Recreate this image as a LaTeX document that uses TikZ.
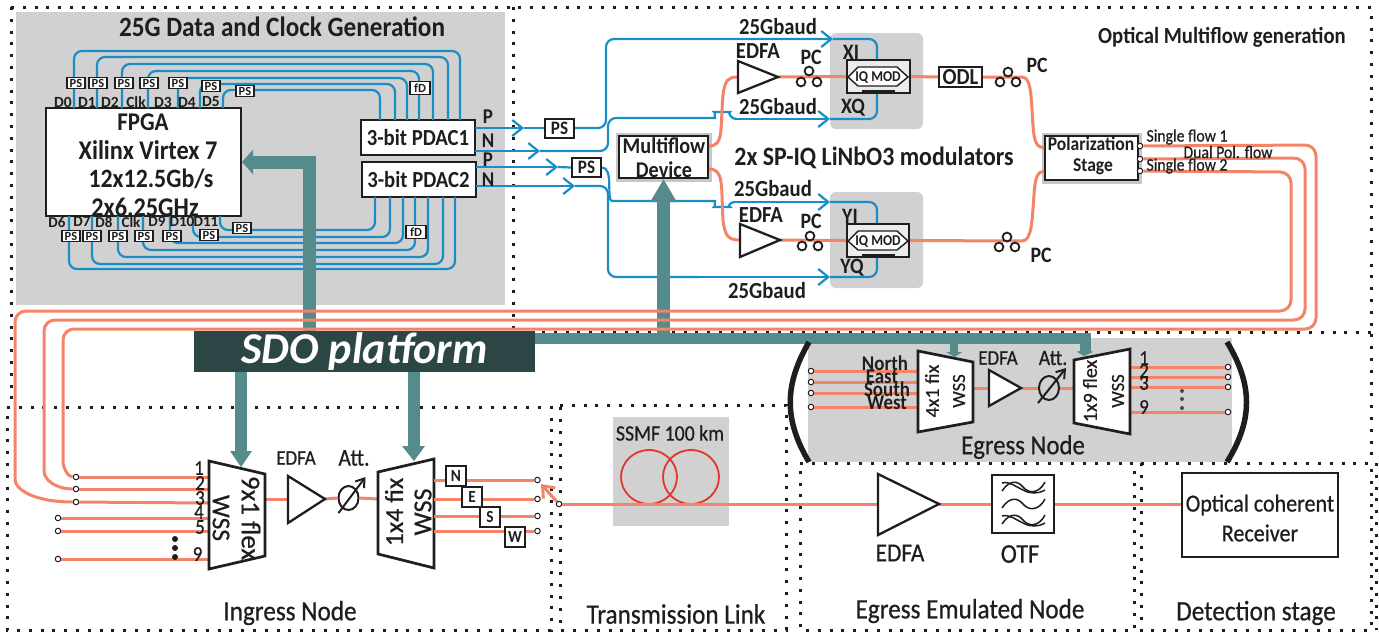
\documentclass[tikz,border=0pt]{standalone}
\usepackage{fontspec}
\setmainfont{Carlito}[FakeStretch=0.9,UprightFeatures={FakeBold=0.6}]
\newfontfamily\plainf{Carlito}[UprightFeatures={FakeBold=0.6}]
\usetikzlibrary{arrows.meta,shapes.geometric,calc}
\definecolor{bluec}{HTML}{1B8DC6}
\definecolor{orngc}{HTML}{F48468}
\definecolor{tealc}{HTML}{568B8B}
\definecolor{sdoc}{HTML}{2C4646}
\definecolor{grayc}{HTML}{D1D1D1}
\definecolor{inkc}{HTML}{1E1E1E}
\definecolor{redc}{HTML}{E2352B}
\newcommand{\fs}[1]{\fontsize{#1pt}{#1pt}\selectfont}
\tikzset{
  dotbox/.style={draw=inkc,line width=3pt,dash pattern=on 3pt off 8.8pt},
  blw/.style={draw=bluec,line width=2.2pt,rounded corners=8pt},
  blarrow/.style={blw,-{Straight Barb[length=10pt,width=16pt]}},
  org/.style={draw=orngc,line width=3pt},
  tw/.style={draw=tealc,line width=#1},
  pbox/.style={draw=inkc,line width=1.9pt,fill=white,inner sep=0pt,font=\plainf\fs{12.5}\bfseries,text=inkc},
  psb/.style={pbox,minimum width=18pt,minimum height=11pt},
  hbox/.style={draw=inkc,line width=2pt,fill=white,inner sep=0pt,text=inkc,align=center},
  shad/.style={preaction={draw=black!22,line width=7pt}},
  lab/.style={inner sep=0pt,text=inkc,font=\fs{#1}},
  plab/.style={inner sep=0pt,text=inkc,font=\plainf\fs{#1}},
  blab/.style={inner sep=0pt,text=inkc,font=\fs{#1}\bfseries},
  dlab/.style={inner sep=0pt,text=inkc,font=\plainf\fs{#1}\bfseries},
  port/.style={circle,draw=inkc,line width=1pt,fill=white,inner sep=0pt,minimum size=5.5pt},
  coil/.style={draw=inkc,line width=1.8pt,fill=white},
  tri/.style={draw=inkc,line width=2.3pt,fill=white,line join=miter},
  wss/.style={draw=inkc,line width=2.7pt,fill=white},
  att/.style={ellipse,draw=inkc,line width=2pt,inner sep=0pt,minimum width=20pt,minimum height=24pt},
  attar/.style={draw=inkc,line width=2pt,-{Straight Barb[length=8pt,width=11pt]}},
  dotk/.style={fill=inkc,draw=none},
}
\begin{document}
\begin{tikzpicture}[x=1pt,y=-1pt]
\useasboundingbox (0,0) rectangle (1379,633);
\fill[white] (0,0) rectangle (1379,633);
% grey fields
\fill[grayc] (16,12) rectangle (505,305);
\fill[grayc,rounded corners=6pt] (830,33) rectangle (923,129);
\fill[grayc,rounded corners=6pt] (830,192) rectangle (923,288);
\fill[grayc] (808,338) rectangle (1232,462);
\fill[grayc] (613,417) rectangle (729,526);
% dotted frames
\draw[dotbox] (11,7) -- (1371,7) -- (1371,463);
\draw[dotbox] (1371,332) -- (513,332);
\draw[dotbox] (513,7) -- (513,332);
\draw[dotbox] (11,7) -- (11,400);
\draw[dotbox] (7,407) -- (551,407) -- (551,630) -- (7,630) -- cycle;
\draw[dotbox] (560,405) -- (786,405) -- (786,630) -- (560,630) -- cycle;
\draw[dotbox] (800,463) -- (1134,463) -- (1134,630) -- (800,630) -- cycle;
\draw[dotbox] (1141,463) -- (1371,463) -- (1371,630) -- (1141,630) -- cycle;
\draw[dotbox] (1376,463) -- (1376,630);
% boxes that wires attach to
\node[hbox,minimum width=195pt,minimum height=108pt] (fpga) at (143.5,162) {};
\node[hbox,minimum width=114pt,minimum height=35pt,font=\fs{23}\bfseries] (pdaca) at (418,137.5) {3-bit PDAC1};
\node[hbox,minimum width=114pt,minimum height=35pt,font=\fs{23}\bfseries] (pdacb) at (418.5,179.5) {3-bit PDAC2};
% blue wires, FPGA to PDAC
\foreach \i/\xa/\yy/\xb in {0/74/51/460,1/97/57/448,2/122/64/433,3/148/71/419,4/178/78/407,5/200/84/395,6/223/90/380}{
  \coordinate (fa\i) at (\xa,108);
  \coordinate (ma\i) at ({(\xa+\xb)/2},\yy);
  \coordinate (pa\i) at (\xb,120);
  \draw[blw] (fa\i) |- (ma\i) -| (pa\i);
}
\foreach \i/\xa/\yy/\xb in {0/69/269/455,1/92/264/443,2/118/257/428,3/143/250/415,4/170/243/403,5/193/237/390,6/220/230/375}{
  \coordinate (fb\i) at (\xa,216);
  \coordinate (mb\i) at ({(\xa+\xb)/2},\yy);
  \coordinate (pb\i) at (\xb,197);
  \draw[blw] (fb\i) |- (mb\i) -| (pb\i);
}
% modulators
\node[hbox,fill=black!8,minimum width=63pt,minimum height=33pt] (iqa) at (878.5,76.5) {};
\node[hbox,fill=black!8,minimum width=62pt,minimum height=33pt] (iqb) at (878,240.5) {};
\node[hbox,shad,minimum width=89pt,minimum height=42pt] (mf) at (663.5,157) {};
\node[hbox,shad,minimum width=93pt,minimum height=44pt] (pol) at (1091.5,158) {};
\node[hbox,minimum width=29pt,minimum height=19pt,font=\fs{19}\bfseries] (psa) at (559.5,128) {PS};
\node[hbox,minimum width=29pt,minimum height=19pt,font=\fs{19}\bfseries] (psb) at (586.5,167.5) {PS};
% blue wires, PDAC to modulators
\coordinate (pa) at (475,128);
\coordinate (na) at (475,151);
\coordinate (pb) at (476,167);
\coordinate (nb) at (476,186);
\draw[blarrow] (pa) -- (524,128);
\draw[blw] (524,128) -- (psa.west);
\draw[blarrow] (psa.east) -- (606,128) -- (606,39) -- (833,39);
\draw[blw] (833,39) -- (877,39) -- (iqa.north -| 877,60);
\draw[blarrow] (na) -- (540,151);
\draw[blw] (540,151) -- (608,151) -- (608,118) -- (707,118) .. controls (714,118) and (716,112) .. (722,112) .. controls (728,112) and (730,119) .. (737,119);
\draw[blarrow] (737,119) -- (830,119);
\draw[blw] (830,119) -- (877,119) -- (iqa.south -| 877,93);
\draw[blarrow] (pb) -- (558,167);
\draw[blw] (558,167) -- (psb.west);
\draw[blw] (psb.east) .. controls (614,167) and (606,201) .. (620,201) -- (707,201) .. controls (714,201) and (716,207) .. (722,207) .. controls (728,207) and (729,202) .. (735,202);
\draw[blarrow] (735,202) -- (830,202);
\draw[blw] (830,202) -- (877,202) -- (iqb.north -| 877,224);
\draw[blarrow] (nb) -- (575,186);
\draw[blw] (575,186) -- (608,186) -- (608,277) -- (700,277);
\draw[blarrow] (700,277) -- (830,277);
\draw[blw] (830,277) -- (877,277) -- (iqb.south -| 877,257);
% teal control paths
\coordinate (ta) at (309.5,335);
\draw[tw=13pt,-{Triangle[length=11pt,width=24pt]}] (ta) |- (fpga.east);
\coordinate (tb) at (663.5,335);
\draw[tw=13pt,-{Triangle[length=23pt,width=25pt]}] (tb) -- (mf.south);
\coordinate (tba) at (535,338.5);
\coordinate (tbb) at (954,338.5);
\coordinate (tbc) at (1085,355);
\coordinate (tbd) at (954,356);
\draw[tw=11pt,-{Triangle[length=4pt,width=16pt]}] (tba) -| (tbc);
\draw[tw=8pt,-{Triangle[length=4pt,width=16pt]}] (tbb) -- (tbd);
% ports
\node[port] (i1) at (76,477) {};
\node[port] (i2) at (76,489) {};
\node[port] (i3) at (76,502) {};
\node[port] (i4) at (58,518) {};
\node[port] (i5) at (58,531) {};
\node[port] (i9) at (58,559) {};
\node[port] (sfa) at (1140,146) {};
\node[port] (sfd) at (1140,159) {};
\node[port] (sfb) at (1140,171) {};
% orange: flows back to the ingress node
\draw[org,rounded corners=11pt] (sfb) -- (1291,172) -- (1291,311) -- (15,311) -- (15,468) [sharp corners] .. controls (15,490) and (35,502) .. (i3.west);
\draw[org,rounded corners=11pt] (sfd) -- (1305,158) -- (1305,320) -- (44,320) -- (44,460) [sharp corners] .. controls (44,480) and (56,489) .. (i2.west);
\draw[org,rounded corners=11pt] (sfa) -- (1316,145) -- (1316,329) -- (63,329) -- (63,450) [sharp corners] .. controls (63,468) and (68,477) .. (i1.west);
% orange: multiflow section
\coordinate (ea1) at (738,77);
\coordinate (ea2) at (778,77);
\coordinate (eb1) at (740,240);
\coordinate (eb2) at (780,240);
\node[hbox,minimum width=43pt,minimum height=20pt,font=\fs{23}\bfseries] (odl) at (960.5,77) {ODL};
\draw[org] (mf.east |- 0,146) .. controls (724,146) and (720,130) .. (723,95) .. controls (725,80) and (728,77) .. (ea1);
\draw[org] (mf.east |- 0,169) .. controls (724,169) and (721,185) .. (723,220) .. controls (725,236) and (728,240) .. (eb1);
\draw[org] (ea2) -- (iqa.west);
\draw[org] (eb2) -- (iqb.west);
\draw[org] (iqa.east) -- (odl.west);
\draw[org] (odl.east) -- (1022,77) .. controls (1032,77) and (1031,100) .. (1033,125) .. controls (1034,143) and (1037,147) .. (pol.west |- 0,148);
\draw[org] (iqb.east) -- (1022,241) .. controls (1032,241) and (1032,220) .. (1034,195) .. controls (1035,176) and (1038,172) .. (pol.west |- 0,171);
% amplifiers and polarisation controllers
\draw[tri] (738,61) -- (738,93) -- (778,77) -- cycle;
\draw[tri] (740,224) -- (740,257) -- (780,240) -- cycle;
\foreach \x/\y in {809/71,801/82,817/82,810/236,802/246,818/246,1008/72,1000/82,1016/82,1007/237,999/247,1015/247}
  \draw[coil] (\x,\y) circle (4.4pt);
% IQ details
\foreach \c/\y in {iqa/77,iqb/241}{
  \draw[draw=inkc,line width=1.4pt,fill=white] (848,\y) -- (858,{\y-10}) -- (897,{\y-10}) -- (908,\y) -- (897,{\y+9}) -- (858,{\y+9}) -- cycle;
  \draw[draw=inkc,line width=.8pt] (862,{\y+13}) -- (895,{\y+13}) (862,{\y+14.6}) -- (895,{\y+14.6});
}
\node[blab=15] (iqta) at (878,77.5) {IQ MOD};
\node[blab=15] (iqtb) at (878,241.5) {IQ MOD};
% SDO
\node[draw=none,fill=sdoc,minimum width=341pt,minimum height=41pt,inner sep=0pt,text=white,font=\plainf\fs{44}\bfseries\itshape] (sdo) at (364.5,351.5) {SDO platform};
% ingress node
\draw[org] (i1) -- (209,477);
\draw[org] (i2) -- (209,489);
\draw[org] (i3) -- (209,503);
\draw[org] (i4) -- (209,518);
\draw[org] (i5) -- (209,531);
\draw[org] (i9) -- (209,559);
\coordinate (twa) at (241,372);
\coordinate (twb) at (414,372);
\draw[tw=12pt] (twa) -- (241,452);
\draw[tw=12pt] (twb) -- (414,447);
\coordinate (wio) at (265,499);
\coordinate (eci) at (288,499);
\coordinate (eco) at (325,499);
\node[att] (atti) at (348.5,498) {};
\coordinate (wo0) at (378,499);
\draw[org] (wio) -- (eci);
\draw[org] (eco) -- (atti.west);
\draw[org] (atti.east) -- (wo0);
\draw[attar] (338.5,513) -- (365.5,477);
\draw[wss] (209,461) -- (265,474) -- (265,556) -- (209,569) -- cycle;
\draw[tri] (288,476) -- (288,523) -- (325,499) -- cycle;
\draw[wss] (378,472) -- (434,459) -- (434,568) -- (378,554) -- cycle;
\fill[tealc] (230,451) -- (252,451) -- (241,467) -- cycle;
\fill[tealc] (402,446) -- (425,446) -- (414,461) -- cycle;
\node[plab=27,rotate=-90] (w9a) at (251,518) {9x1 flex};
\node[plab=25.5,rotate=-90] (w9b) at (221,518) {WSS};
\node[plab=26,rotate=90] (w4a) at (394,512) {1x4 fix};
\node[plab=26,rotate=90] (w4b) at (423,512) {WSS};
\foreach \t/\x/\y in {1/199/468,2/200/483,3/200/498,4/199/512,5/200/527,9/197.5/554}
  \node[lab=21] (in\t) at (\x,\y) {\t};
\foreach \y in {539,548,557} \fill[dotk] (175,\y) circle (3pt);
\node[lab=21] (ediq) at (296,458) {EDFA};
\node[lab=24] (atiq) at (354,458) {Att.};
\node[port] (o1) at (537.5,480) {};
\node[port] (o2) at (537.5,499) {};
\node[port] (o3) at (537.5,516) {};
\node[port] (o4) at (537.5,531) {};
\draw[org] (434,480) -- (o1);
\draw[org] (434,499) -- (o2);
\draw[org] (434,516) -- (o3);
\draw[org] (434,531) -- (o4);
\foreach \t/\n/\x/\y in {N/dn/456/476,E/de/472/497,S/ds/490/517,W/dw/515/537}
  \node[hbox,line width=1.7pt,minimum size=20pt,font=\fs{17}\bfseries] (\n) at (\x,\y) {\t};
\node[lab=28] (lingress) at (290,613) {Ingress Node};
% transmission link and following stages
\node[port] (fib) at (559,504) {};
\draw[draw=redc,line width=1.8pt] (649,477) ellipse (28pt and 27pt);
\draw[draw=redc,line width=1.8pt] (691,477) ellipse (28pt and 27pt);
\draw[draw=orngc,line width=3pt,-{Straight Barb[length=10pt,width=16pt]}] (fib) -- (541,484);
\coordinate (eea) at (878,504);
\coordinate (eeb) at (939,504);
\node[hbox,minimum width=62pt,minimum height=58pt] (otf) at (1023,504) {};
\node[hbox,minimum width=156pt,minimum height=84pt] (rx) at (1260,515) {};
\draw[org] (fib) -- (eea);
\draw[org] (eeb) -- (otf.west);
\draw[org] (otf.east) -- (rx.west |- 0,504);
\draw[tri] (878,474) -- (878,535) -- (939,504) -- cycle;
\foreach \y in {487,504,520}{
  \draw[draw=inkc,line width=1.5pt] (1002,{\y+4}) .. controls (1010,{\y-8}) and (1018,{\y-6}) .. (1023,\y) .. controls (1028,{\y+6}) and (1038,{\y+8}) .. (1045,{\y-5});
}
\foreach \y in {487,520}{
  \draw[draw=inkc,line width=1.5pt] (1002,{\y-4}) .. controls (1010,{\y-6}) and (1016,{\y}) .. (1023,{\y+3}) .. controls (1030,{\y+7}) and (1038,{\y+7}) .. (1045,{\y+3});
}
\node[lab=22] (ssmf) at (670,433) {SSMF 100 km};
\node[lab=26] (ledfa) at (900,553) {EDFA};
\node[lab=27] (lotf) at (1020,554) {OTF};
\node[lab=24.5] (rxa) at (1260,505) {Optical coherent};
\node[lab=24.5] (rxb) at (1260,533) {Receiver};
\node[lab=28] (ltl) at (676,614) {Transmission Link};
\node[lab=28] (lee) at (970,611) {Egress Emulated Node};
\node[lab=28] (lds) at (1256,613) {Detection stage};
% egress node
\draw[line width=5.5pt,draw=inkc] (809,342) .. controls (784,385) and (784,420) .. (809,462);
\draw[line width=5.5pt,draw=inkc] (1227,342) .. controls (1253,385) and (1253,420) .. (1227,462);
\foreach \n/\y in {ea/371,eb/382,ec/393,ed/407}{
  \node[port] (p\n) at (811,\y) {};
  \draw[org] (p\n) -- (918,\y);
}
\foreach \n/\y in {ef/367,eg/377,eh/387,ei/412}{
  \node[port] (p\n) at (1228,\y) {};
  \draw[org] (1130,\y) -- (p\n);
}
\node[att] (atte) at (1049,388) {};
\draw[org] (973,388) -- (989,388);
\draw[org] (1021,388) -- (atte.west);
\draw[org] (atte.east) -- (1074,388);
\draw[attar] (1038,403) -- (1066,368);
\draw[wss] (918,351) -- (973,362) -- (973,422) -- (918,432) -- cycle;
\draw[tri] (989,370) -- (989,406) -- (1021,388) -- cycle;
\draw[wss] (1074,360) -- (1130,349) -- (1130,434) -- (1074,423) -- cycle;
\fill[tealc] (947,352) -- (962,352) -- (954.5,357) -- cycle;
\fill[tealc] (1077,352) -- (1093,352) -- (1084,356) -- cycle;
\node[plab=20,rotate=90] (w41a) at (932,391) {4x1 fix};
\node[plab=18.5,rotate=90] (w41b) at (959,391) {WSS};
\node[plab=20,rotate=90] (w19a) at (1090,391) {1x9 flex};
\node[plab=18.5,rotate=90] (w19b) at (1118,391) {WSS};
\node[lab=21] (ednd) at (998,358) {EDFA};
\node[lab=22] (atnd) at (1053,358) {Att.};
\foreach \t/\n/\x/\y in {North/tn/885/363,East/te/882/377,South/ts/887/389,West/tw/887/403}
  \node[blab=21] (\n) at (\x,\y) {\t};
\foreach \t/\n/\y in {1/ta/358,2/tb/371,3/tc/383,9/td/407}
  \node[lab=21] (q\n) at (1144,\y) {\t};
\foreach \y in {391,399,408} \fill[inkc!80] (1182,\y) circle (2pt);
\node[lab=27.5] (legr) at (1023,447) {Egress Node};
% data generator labels and elements
\foreach \t/\n/\x in {D0/a/63,D1/b/87,D2/c/110,Clk/d/136,D3/e/163,D4/f/187,D5/g/211}
  \node[dlab=15.5] (tp\n) at (\x,102) {\t};
\foreach \t/\n/\x in {D6/a/57,D7/b/82,D8/c/104,Clk/d/131,D9/e/157,D10/f/182,D11/g/206}
  \node[dlab=15] (bt\n) at (\x,222) {\t};
\foreach \n/\x/\y in {a/76/83,b/98/83,c/124/83,d/149/83,e/178/83,f/211/86,g/245/91,h/71/236,i/92/236,j/118/236,k/144/236,l/172/236,m/209/235,n/242/228}
  \node[psb] (ps\n) at (\x,\y) {PS};
\node[psb,minimum width=20pt,minimum height=13pt] (fda) at (420,88) {fD};
\node[psb,minimum width=20pt,minimum height=13pt] (fdb) at (416,232) {fD};
\node[blab=25.5] (tfa) at (143,122) {FPGA};
\node[blab=27] (tfb) at (148,150) {Xilinx Virtex 7};
\node[blab=26.5] (tfc) at (151,179) {12x12.5Gb/s};
\node[blab=27] (tfd) at (145,207) {2x6.25GHz};
\node[blab=28] (tdata) at (282,27) {25G Data and Clock Generation};
\foreach \t/\n/\y in {P/lpa/117,N/lna/141,P/lpb/160,N/lnb/180}
  \node[blab=21] (\n) at (488,\y) {\t};
% optical multiflow labels
\node[blab=22.5] (lmfa) at (664,146) {Multiflow};
\node[blab=22.5] (lmfb) at (664,170) {Device};
\node[blab=19.5] (lpa1) at (1091,144) {Polarization};
\node[blab=19.5] (lpa2) at (1093,167) {Stage};
\node[blab=23] (b1) at (778,27) {25Gbaud};
\node[blab=23] (b2) at (778,107) {25Gbaud};
\node[blab=23] (b3) at (773,189) {25Gbaud};
\node[blab=23] (b4) at (767,291) {25Gbaud};
\node[blab=23] (e1) at (758,51) {EDFA};
\node[blab=23] (e2) at (761,215) {EDFA};
\node[blab=22] (c1) at (811,57) {PC};
\node[blab=22] (c2) at (811,221) {PC};
\node[blab=22] (c3) at (1037,65) {PC};
\node[blab=22] (c4) at (1041,255) {PC};
\node[blab=22] (xi) at (851,52) {XI};
\node[blab=22] (xq) at (853,108) {XQ};
\node[blab=22] (yi) at (850,216) {YI};
\node[blab=22] (yq) at (852,268) {YQ};
\node[blab=26.5] (lmods) at (874,158) {2x SP-IQ LiNbO3 modulators};
\node[blab=23] (lomg) at (1222,37) {Optical Multiflow generation};
\node[lab=17.5] (sf1) at (1187,137) {Single flow 1};
\node[lab=17.5] (sf2) at (1228,152) {Dual Pol. flow};
\node[lab=17.5] (sf3) at (1187,166) {Single flow 2};
\end{tikzpicture}
\end{document}
